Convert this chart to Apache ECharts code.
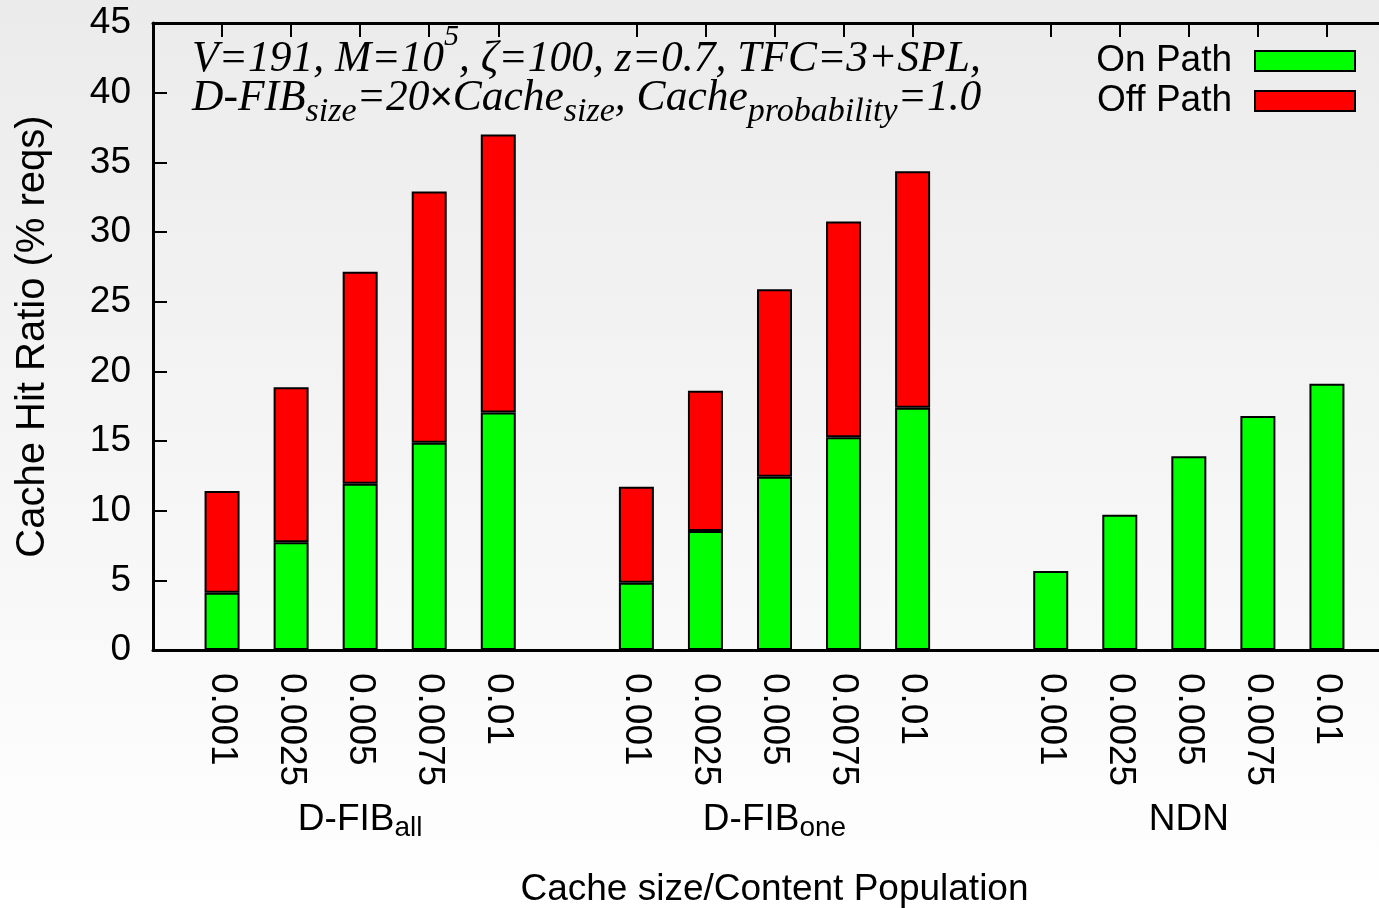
<!DOCTYPE html>
<html>
<head>
<meta charset="utf-8">
<script src="https://cdn.jsdelivr.net/npm/echarts@6/dist/echarts.min.js"></script>
<style>
html,body{margin:0;padding:0;background:#fff;}
#chart{width:1379px;height:908px;}
</style>
</head>
<body>
<div id="chart"></div>
<script>
// ---- data ----
const cacheRatios = ['0.001', '0.0025', '0.005', '0.0075', '0.01'];
const groupNames = ['D-FIB_all', 'D-FIB_one', 'NDN'];
const onPathDfibAll = [4.11, 7.73, 11.94, 14.88, 17.04];
const offPathDfibAll = [7.30, 11.13, 15.20, 18.02, 19.95];
const onPathDfibOne = [4.83, 8.54, 12.44, 15.27, 17.39];
const offPathDfibOne = [6.89, 10.07, 13.45, 15.48, 16.97];
const onPathNdn = [5.67, 9.71, 13.90, 16.80, 19.10];
const offPathNdn = [null, null, null, null, null];
const yTicks = [0, 5, 10, 15, 20, 25, 30, 35, 40, 45];

// ---- category slots: gap, group, gap, group, gap, group, gap ----
const xCategories = [''];
const onData = [null];
const offData = [null];
const groupLabelAt = {};
[[onPathDfibAll, offPathDfibAll], [onPathDfibOne, offPathDfibOne], [onPathNdn, offPathNdn]].forEach((g, gi) => {
  cacheRatios.forEach((c, i) => {
    if (i === 2) groupLabelAt[xCategories.length] = groupNames[gi];
    xCategories.push(c);
    onData.push(g[0][i]);
    offData.push(g[1][i]);
  });
  xCategories.push('');
  onData.push(null);
  offData.push(null);
});

const sans = 'Liberation Sans';
const serif = 'Liberation Serif';

function groupLabel(name) {
  const parts = name.split('_');
  if (parts.length === 1) return '{g|' + parts[0] + '}';
  return '{g|' + parts[0] + '}{gs|' + parts[1] + '}';
}

const chart = echarts.init(document.getElementById('chart'), null, {renderer: 'canvas'});
const tickInterval = (idx, val) => val !== '';

chart.setOption({
  animation: false,
  backgroundColor: 'transparent',
  graphic: [
    {
      type: 'rect', z: -100, silent: true,
      shape: {x: 0, y: 0, width: 1379, height: 908},
      style: {fill: {type: 'linear', x: 0, y: 0, x2: 0, y2: 1,
        colorStops: [{offset: 0, color: '#ebebeb'}, {offset: 1, color: '#ffffff'}]}}
    },
    {
      type: 'text', left: 192, top: 22, z: 100,
      style: {
        text: '{m|V=191, M=10}{sup|5}{m|, ζ=100, z=0.7, TFC=3+SPL,}',
        fill: '#000',
        rich: {
          m: {fontFamily: serif, fontStyle: 'italic', fontSize: 43.5, lineHeight: 76, fill: '#000'},
          sup: {fontFamily: serif, fontStyle: 'italic', fontSize: 30, lineHeight: 9, verticalAlign: 'top', fill: '#000'}
        }
      }
    },
    {
      type: 'text', left: 192, top: 77, z: 100,
      style: {
        text: '{m|D-FIB}{sub|size}{m|=20}{x|×}{m|Cache}{sub|size}{m|, Cache}{sub|probability}{m|=1.0}',
        fill: '#000',
        rich: {
          m: {fontFamily: serif, fontStyle: 'italic', fontSize: 43.5, lineHeight: 60, fill: '#000'},
          x: {fontFamily: sans, fontSize: 40, lineHeight: 60, fill: '#000'},
          sub: {fontFamily: serif, fontStyle: 'italic', fontSize: 34, lineHeight: 22, verticalAlign: 'bottom', fill: '#000'}
        }
      }
    }
  ],
  legend: {
    data: ['On Path', 'Off Path'],
    orient: 'vertical',
    right: 18,
    top: 36,
    align: 'right',
    icon: 'rect',
    itemWidth: 100,
    itemHeight: 20,
    itemGap: 0,
    textStyle: {fontFamily: sans, fontSize: 37, color: '#000', lineHeight: 40, padding: [0, 18, 0, 0]}
  },
  grid: {left: 153, right: -17, top: 23, bottom: 258, containLabel: false, outerBoundsMode: 'none'},
  xAxis: [
    {
      type: 'category', data: xCategories, boundaryGap: false, position: 'bottom',
      axisLine: {show: true, onZero: false, lineStyle: {color: '#000', width: 3}},
      axisTick: {show: true, inside: true, length: 14, interval: tickInterval, lineStyle: {color: '#000', width: 2}},
      axisLabel: {show: true, interval: 0, rotate: -90, margin: 23, fontFamily: sans, fontSize: 37, color: '#000'},
      name: 'Cache size/Content Population', nameLocation: 'middle', nameGap: 220,
      nameTextStyle: {fontFamily: sans, fontSize: 37, color: '#000', lineHeight: 40},
      splitLine: {show: false}
    },
    {
      type: 'category', data: xCategories, boundaryGap: false, position: 'top',
      axisLine: {show: true, onZero: false, lineStyle: {color: '#000', width: 3}},
      axisTick: {show: true, inside: true, length: 14, interval: tickInterval, lineStyle: {color: '#000', width: 2}},
      axisLabel: {show: false},
      splitLine: {show: false}
    },
    {
      type: 'category', data: xCategories, boundaryGap: false, position: 'bottom',
      axisLine: {show: false}, axisTick: {show: false}, splitLine: {show: false},
      axisLabel: {
        show: true, interval: 0, margin: 148,
        formatter: (v, i) => groupLabelAt[i] ? groupLabel(groupLabelAt[i]) : '',
        rich: {
          g: {fontFamily: sans, fontSize: 37, lineHeight: 44, color: '#000'},
          gs: {fontFamily: sans, fontSize: 28, lineHeight: 22, verticalAlign: 'bottom', color: '#000'}
        }
      }
    }
  ],
  yAxis: {
    type: 'value', min: yTicks[0], max: yTicks[yTicks.length - 1], interval: yTicks[1] - yTicks[0],
    axisLine: {show: true, lineStyle: {color: '#000', width: 3}},
    axisTick: {show: true, inside: true, length: 14, lineStyle: {color: '#000', width: 2}},
    axisLabel: {fontFamily: sans, fontSize: 37, color: '#000', margin: 22},
    splitLine: {show: false},
    name: 'Cache Hit Ratio (% reqs)', nameLocation: 'middle', nameGap: 100, nameRotate: 90,
    nameTextStyle: {fontFamily: sans, fontSize: 40, color: '#000'}
  },
  series: [
    {
      name: 'On Path', type: 'bar', stack: 'total', xAxisIndex: 0, barWidth: 35,
      data: onData,
      itemStyle: {color: '#00ff00', borderColor: '#000', borderWidth: 2}
    },
    {
      name: 'Off Path', type: 'bar', stack: 'total', xAxisIndex: 0, barWidth: 35,
      data: offData,
      itemStyle: {color: '#ff0000', borderColor: '#000', borderWidth: 2}
    }
  ]
});
</script>
</body>
</html>
